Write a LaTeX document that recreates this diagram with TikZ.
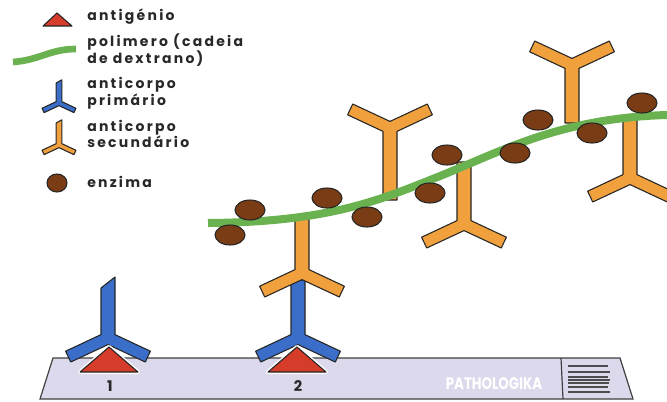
\documentclass[tikz,border=0pt]{standalone}
\usepackage{fontspec}
\usepackage{tikz}
\setmainfont{Poppins}
\newfontfamily\legendfont{Poppins}[LetterSpace=16]

\definecolor{abBlue}{RGB}{58,110,200}
\definecolor{abOrange}{RGB}{240,160,60}
\definecolor{agRed}{RGB}{214,60,42}
\definecolor{dexGreen}{RGB}{106,178,80}
\definecolor{enzBrown}{RGB}{122,60,20}
\definecolor{slideFill}{RGB}{221,217,236}
\definecolor{inkGray}{RGB}{40,40,40}

\tikzset{
  ab fill/.store in=\abFill, ab stem/.store in=\abStem, ab cut/.store in=\abCut,
  ab fill=abOrange, ab stem=60, ab cut=0,
  outline/.style={draw=black!85, line width=0.8pt, line join=round},
  % Y-shaped antibody, junction at the origin, arms up
  antibody/.pic={
    \filldraw[outline, fill=\abFill]
      (-7,\abStem+\abCut) -- (-7,3.4) -- (-42.4,-13.2) -- (-37.3,-24) -- (0,-6.6)
      -- (37.3,-24) -- (42.4,-13.2) -- (7,3.4) -- (7,\abStem) -- cycle;
  },
  antigen/.style={outline, fill=agRed},
  enzyme/.style={outline, fill=enzBrown},
  dextran/.style={dexGreen, line width=6pt},
  legend/.style={anchor=west, align=left, inner sep=0pt, text=inkGray,
    font=\legendfont\bfseries\fontsize{10.5}{9.5}\selectfont},
}

\begin{document}
\begin{tikzpicture}[x=0.75pt, y=-0.75pt]
  \useasboundingbox (0,0) rectangle (667,401);

  % slide
  \filldraw[draw=black!75, line width=0.9pt, fill=slideFill]
    (53,358) coordinate (sTL) -- (620,358) coordinate (sTR)
    -- (633,399) coordinate (sBR) -- (40,399) coordinate (sBL) -- cycle;
  \coordinate (divTop) at (561,358);
  \coordinate (divBot) at (563,399);
  \draw[black!75, line width=0.9pt] (divTop) -- (divBot);
  \foreach \y/\len in {366/40, 372/42, 377/40, 380/42, 383/41, 387/40, 392/42}
    \draw[black!70, line width=1.3pt] (568,\y) -- ++(\len,0);
  \node[text=white, font=\bfseries\fontsize{12.5}{12.5}\selectfont] (logo) at (494,384)
    {\scalebox{0.8}[1]{PATHOLOGIKA}};
  \node[font=\bfseries\fontsize{11}{11}\selectfont, text=inkGray] (n1) at (110,386) {1};
  \node[font=\bfseries\fontsize{11}{11}\selectfont, text=inkGray] (n2) at (298,386) {2};

  % primary antibodies
  \pic[ab fill=abBlue, ab stem=50, ab cut=11, rotate=180] (ab1) at (108,338) {antibody};
  \pic[ab fill=abBlue, ab stem=58, rotate=180] (ab2) at (298,338) {antibody};

  % antigens
  \foreach \x [count=\i] in {109,297} {
    \draw[white, line width=3pt, line join=round]
      (\x,347) -- (\x+29,372) -- (\x-29,372) -- cycle;
    \filldraw[antigen] (\x,347) coordinate (ag\i) -- (\x+29,372) -- (\x-29,372) -- cycle;
  }

  % secondary antibodies
  \pic[ab stem=56, rotate=180] (ab3) at (302,273) {antibody};
  \pic[ab stem=72] (ab4) at (390,128) {antibody};
  \pic[ab stem=62, rotate=180] (ab5) at (464,224) {antibody};
  \pic[ab stem=58] (ab6) at (572,65) {antibody};
  \pic[ab stem=62, rotate=180] (ab7) at (630,178) {antibody};

  % dextran chain
  \draw[dextran] (208,223) coordinate (dexA)
    .. controls (330,222) and (380,200) .. (440,176) coordinate (dexB)
    .. controls (500,152) and (560,118) .. (667,115) coordinate (dexC);

  % enzymes
  \foreach \x/\y [count=\i] in {230/235, 250/210, 327/198, 367/217, 447/155,
      430/193, 515/153, 538/120, 592/133, 642/103}
    \filldraw[enzyme] (\x,\y) coordinate (enz\i) ellipse [x radius=15, y radius=10];

  % legend
  \filldraw[antigen] (57,13) coordinate (lgAg) -- (72,26) -- (43,26) -- cycle;
  \node[legend] (tAg) at (87,17) {antigénio};
  \draw[dextran, line width=5pt] (13,62) coordinate (lgDex)
    .. controls (40,60) and (50,49) .. (76,49);
  \node[legend] (tDex) at (87,50) {polimero (cadeia\\de dextrano)};
  \pic[ab fill=abBlue, ab stem=50, ab cut=8, scale=0.4, rotate=180] (lgAb1) at (59,103) {antibody};
  \node[legend] (tAb1) at (87,93) {anticorpo\\primário};
  \pic[ab stem=55, ab cut=8, scale=0.4, rotate=180] (lgAb2) at (59,145) {antibody};
  \node[legend] (tAb2) at (87,134) {anticorpo\\secundário};
  \filldraw[enzyme] (57,183) coordinate (lgEnz) ellipse [x radius=10, y radius=9];
  \node[legend] (tEnz) at (87,182) {enzima};
\end{tikzpicture}
\end{document}
